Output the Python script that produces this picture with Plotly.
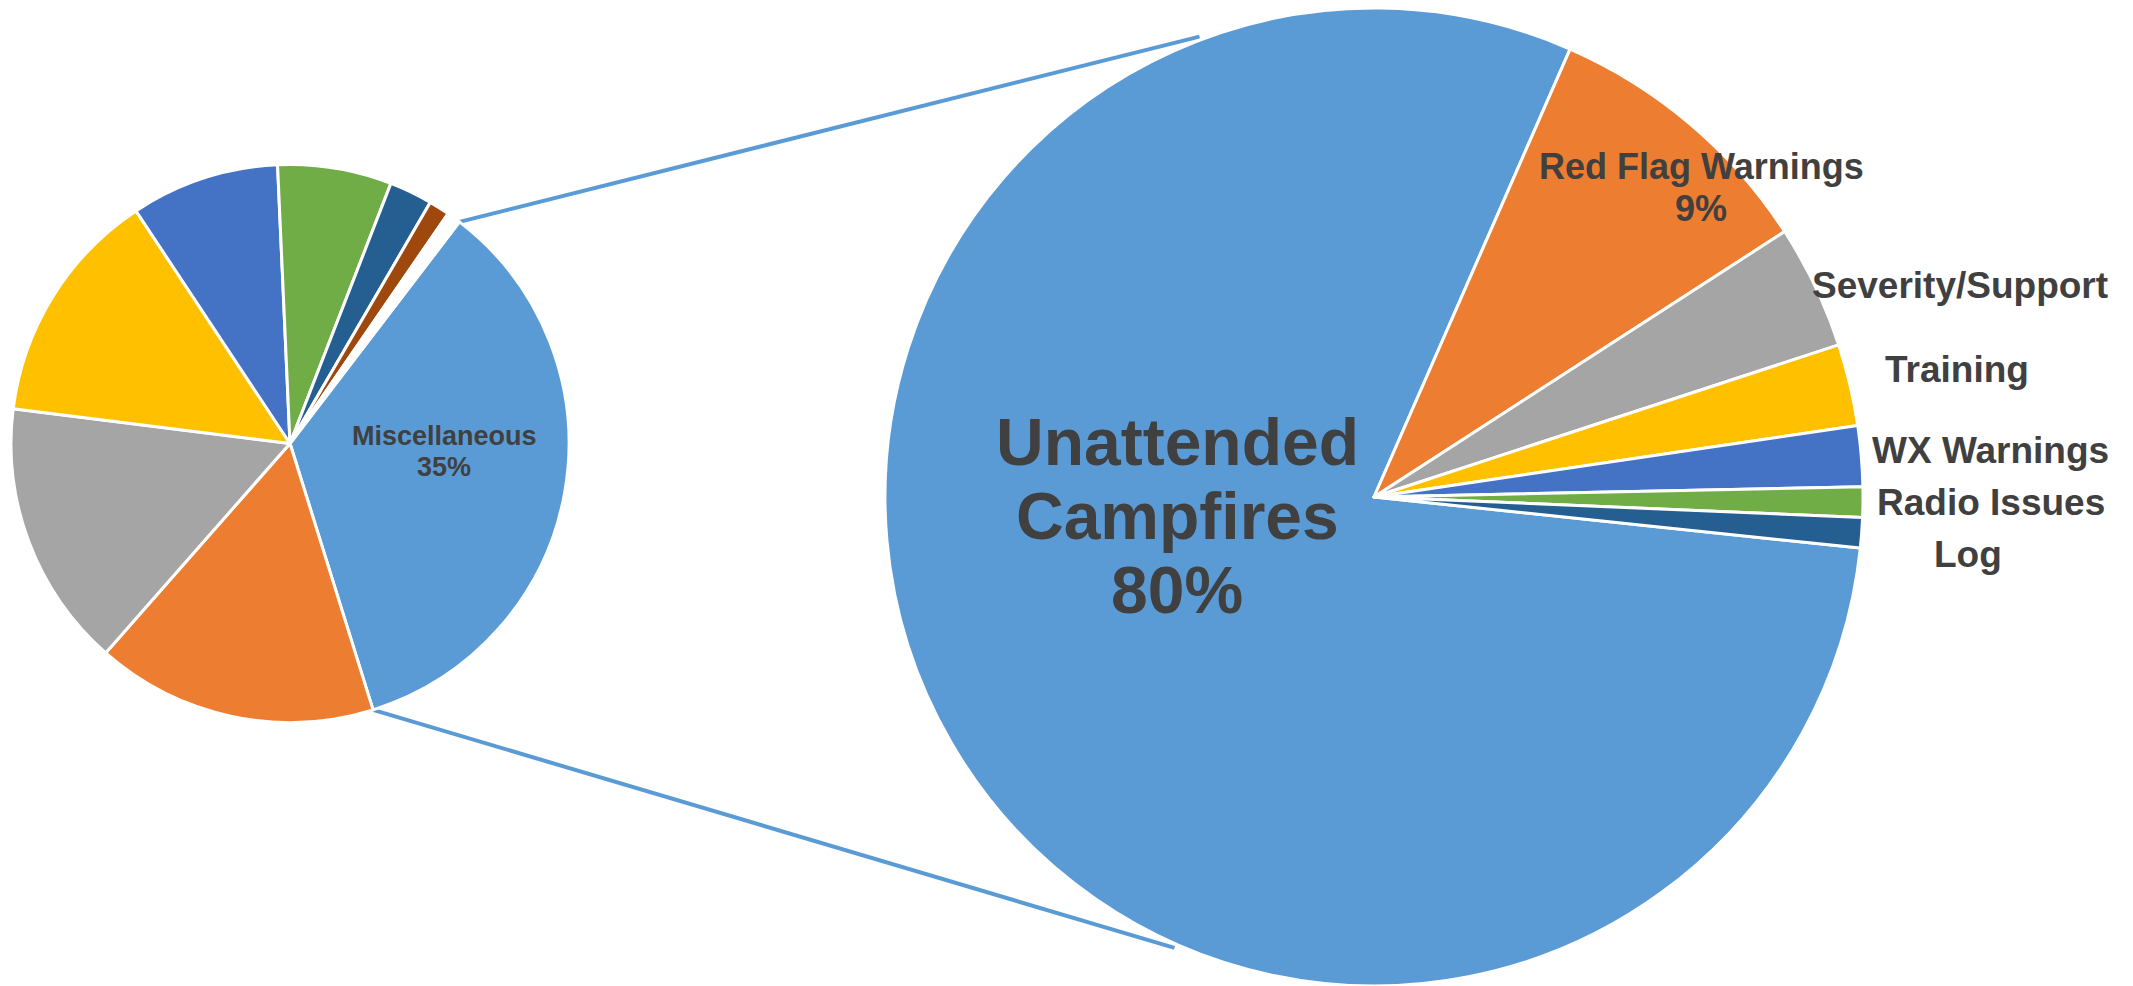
import math
import plotly.graph_objects as go

# ---------------- data ----------------
small_labels = ["Miscellaneous", "Other A", "Other B", "Other C", "Other D",
                "Other E", "Other F", "Other G", "Other H"]
small_values = [34.8, 16.3, 15.5, 13.7, 8.6, 6.6, 2.5, 1.2, 0.8]
small_colors = ["#5B9BD5", "#ED7D31", "#A5A5A5", "#FFC000", "#4472C4",
                "#70AD47", "#255E91", "#9E480E", "#FFFFFF"]

big_labels = ["Unattended Campfires", "Red Flag Warnings", "Severity/Support",
              "Training", "WX Warnings", "Radio Issues", "Log"]
big_values = [79.9, 9.3, 4.1, 2.7, 2.0, 1.0, 1.0]
big_colors = ["#5B9BD5", "#ED7D31", "#A5A5A5", "#FFC000", "#4472C4",
              "#70AD47", "#255E91"]

# ---------------- layout constants (page pixel coordinates) ----------------
PAGE_W, PAGE_H = 2133, 986
OFF = 8                      # default body margin of the html page
FW, FH = PAGE_W - OFF, PAGE_H - OFF
SMALL_C, SMALL_R, SMALL_ROT = (290.0, 443.5), 279.0, 37.4
BIG_C, BIG_R, BIG_ROT = (1374.0, 497.0), 489.0, 96.0
TEXT_COLOR = "#404040"
FONT = "Liberation Sans, Arial, sans-serif"


def px(x):
    return (x - OFF) / FW


def py(y):
    return 1 - (y - OFF) / FH


def dom(c, r):
    cx, cy = c
    return dict(x=[px(cx - r), px(cx + r)],
                y=[max(0.0, py(cy + r)), min(1.0, py(cy - r))])


fig = go.Figure()
fig.add_trace(go.Pie(
    labels=small_labels, values=small_values, sort=False,
    direction="clockwise", rotation=SMALL_ROT,
    marker=dict(colors=small_colors, line=dict(color="white", width=3)),
    textinfo="none", hoverinfo="label+percent", domain=dom(SMALL_C, SMALL_R),
    showlegend=False,
))
fig.add_trace(go.Pie(
    labels=big_labels, values=big_values, sort=False,
    direction="clockwise", rotation=BIG_ROT,
    marker=dict(colors=big_colors, line=dict(color="white", width=3)),
    textinfo="none", hoverinfo="label+percent", domain=dom(BIG_C, BIG_R),
    showlegend=False,
))

# ---------------- connector lines (tangents from Misc slice edges) --------
tot_s = sum(small_values)
a0 = math.radians(SMALL_ROT)
a1 = math.radians(SMALL_ROT + 360 * small_values[0] / tot_s)


def edge_pt(c, r, ang):
    return (c[0] + r * math.sin(ang), c[1] - r * math.cos(ang))


def tangent_end(p, upper, frac=0.93):
    dx, dy = p[0] - BIG_C[0], p[1] - BIG_C[1]
    d = math.hypot(dx, dy)
    phi = math.atan2(dy, dx)
    alpha = math.acos(BIG_R / d)
    ang = phi + alpha if upper else phi - alpha
    t = (BIG_C[0] + BIG_R * math.cos(ang), BIG_C[1] + BIG_R * math.sin(ang))
    return (p[0] + frac * (t[0] - p[0]), p[1] + frac * (t[1] - p[1]))


for ang, up in ((a0, True), (a1, False)):
    p = edge_pt(SMALL_C, SMALL_R, ang)
    e = tangent_end(p, up)
    fig.add_shape(type="line", xref="paper", yref="paper",
                  x0=px(p[0]), y0=py(p[1]), x1=px(e[0]), y1=py(e[1]),
                  line=dict(color="#5B9BD5", width=4), layer="below")


# ---------------- labels ----------------
def pct(v, vals):
    return f"{round(100 * v / sum(vals))}%"


# (offset of block centre from pie centre in px, font size, line spacing, show pct, split words)
label_style = {
    "Miscellaneous": ((154, 8), 27, 30.7, True, False),
    "Unattended Campfires": ((-197, 19), 66, 74, True, True),
    "Red Flag Warnings": ((327, -309.5), 36, 42, True, False),
    "Severity/Support": ((586, -211.5), 37, 0, False, False),
    "Training": ((583, -127), 37, 0, False, False),
    "WX Warnings": ((616, -47), 37, 0, False, False),
    "Radio Issues": ((617, 5.5), 37, 0, False, False),
    "Log": ((594, 57.5), 37, 0, False, False),
}

for labels, values, centre in ((small_labels, small_values, SMALL_C),
                               (big_labels, big_values, BIG_C)):
    for lab, v in zip(labels, values):
        if lab not in label_style:
            continue
        (ox, oy), size, spacing, show_pct, split = label_style[lab]
        lines = lab.split(" ") if split else [lab]
        if show_pct:
            lines = lines + [pct(v, values)]
        n = len(lines)
        for i, line in enumerate(lines):
            ly = centre[1] + oy + (i - (n - 1) / 2) * spacing
            fig.add_annotation(x=px(centre[0] + ox), y=py(ly),
                               xref="paper", yref="paper", text=f"<b>{line}</b>",
                               showarrow=False, xanchor="center", yanchor="middle",
                               align="center",
                               font=dict(family=FONT, size=size, color=TEXT_COLOR))

fig.update_layout(width=FW, height=FH, margin=dict(l=0, r=0, t=0, b=0),
                  paper_bgcolor="white", plot_bgcolor="white", showlegend=False)

fig.write_html("out.html", config={"displayModeBar": False})
